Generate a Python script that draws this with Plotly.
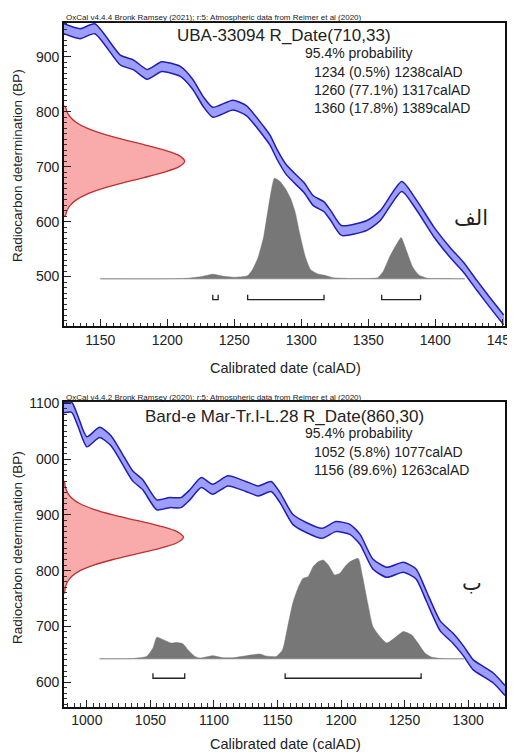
import plotly.graph_objects as go

# page is 515x752; the browser body adds an 8px margin, so the figure is 507x744
OFF = 8
W, H = 515 - OFF, 752 - OFF

# ---------------- Panel A (UBA-33094) ----------------
a_curve_year = [1123, 1135, 1146, 1165, 1175, 1185, 1196, 1210, 1219, 1227, 1234, 1249, 1259,
                1272, 1277, 1282, 1289, 1302, 1309, 1317, 1322, 1330, 1349, 1359, 1375, 1386,
                1399, 1411, 1421, 1431, 1441, 1451]
a_curve_bp = [951, 942, 951, 894, 885, 868, 882, 873, 850, 818, 799, 812, 802,
              764, 747, 722, 694, 662, 638, 627, 611, 584, 593, 611, 664, 630,
              581, 544, 517, 484, 452, 421]
a_curve_sig = [9, 9, 9, 9, 9, 9, 9, 9, 9, 9, 9, 9, 9,
               9, 9, 9, 9, 9, 9, 9, 9, 9, 9, 9, 9, 9,
               9, 9, 9, 9, 9, 9]

a_post_year = [1150, 1200, 1215, 1225, 1234, 1242, 1250, 1256, 1260, 1264, 1268, 1272, 1276,
               1280, 1284, 1288, 1292, 1295.5, 1299, 1303, 1307, 1312, 1318, 1324, 1335,
               1350, 1357, 1361, 1366, 1371, 1374.5, 1379, 1383, 1387.5, 1394, 1405, 1422]
a_post_prob = [0.0, 0.0, 0.005, 0.02, 0.045, 0.025, 0.015, 0.02, 0.03, 0.10, 0.22, 0.42, 0.75,
               1.0, 0.97, 0.90, 0.80, 0.66, 0.44, 0.22, 0.09, 0.05, 0.033, 0.01, 0.003,
               0.003, 0.01, 0.07, 0.22, 0.34, 0.41, 0.26, 0.12, 0.04, 0.005, 0.003, 0.0]

a_red_bp = [610, 620, 630, 640, 650, 660, 670, 680, 690, 700, 710, 720, 730, 740, 750,
            760, 770, 780, 790, 800, 810]
a_red_dens = [0.010, 0.024, 0.053, 0.105, 0.191, 0.317, 0.480, 0.662, 0.832, 0.955, 1.0,
              0.955, 0.832, 0.662, 0.480, 0.317, 0.191, 0.105, 0.053, 0.024, 0.010]

a_ranges = [(1234, 1238), (1260, 1317), (1360, 1389)]
a_title = "UBA-33094 R_Date(710,33)"
a_lines = ["95.4% probability", "1234 (0.5%) 1238calAD", "1260 (77.1%) 1317calAD",
           "1360 (17.8%) 1389calAD"]
a_header = "OxCal v4.4.4 Bronk Ramsey (2021); r:5: Atmospheric data from Reimer et al (2020)"
a_label = "الف"
a_xticks = [1150, 1200, 1250, 1300, 1350, 1400, 1450]
a_yticks = [500, 600, 700, 800, 900]

# ---------------- Panel B (Bard-e Mar) ----------------
b_curve_year = [982, 988, 993, 1000, 1010, 1019, 1028, 1036, 1044, 1055, 1065, 1074, 1081,
                1090, 1099, 1111, 1125, 1135, 1145, 1152, 1162, 1173, 1185, 1196, 1207,
                1215, 1225, 1236, 1249, 1259, 1267, 1278, 1288, 1296, 1304, 1312, 1320, 1329]
b_curve_bp = [1092, 1093, 1068, 1031, 1048, 1033, 1000, 970, 954, 918, 922, 922, 936,
              958, 946, 961, 951, 943, 951, 931, 892, 877, 867, 879, 874,
              856, 812, 797, 806, 794, 755, 701, 679, 657, 631, 619, 607, 585]
b_curve_sig = [9, 9, 9, 9, 9, 9, 9, 9, 9, 9, 9, 9, 9,
               9, 9, 9, 9, 9, 9, 9, 9, 9, 9, 9, 9,
               9, 9, 9, 9, 9, 9, 9, 9, 9, 9, 9, 9, 9]

b_post_year = [1010, 1036, 1047, 1052, 1055, 1060, 1066.5, 1070.5, 1075.5, 1079.5, 1085,
               1089, 1099, 1107, 1115, 1136, 1141, 1149, 1154, 1158, 1162, 1166, 1170,
               1174, 1178, 1182, 1186, 1190, 1195, 1199, 1203, 1207, 1213.5, 1217, 1221,
               1225, 1230.5, 1236, 1242, 1249, 1255.5, 1260.5, 1266, 1271, 1278, 1297]
b_post_prob = [0.0, 0.003, 0.023, 0.106, 0.215, 0.19, 0.156, 0.162, 0.15, 0.09, 0.023,
               0.007, 0.03, 0.01, 0.01, 0.047, 0.027, 0.023, 0.09, 0.32, 0.553, 0.70, 0.80,
               0.817, 0.917, 0.966, 0.983, 0.933, 0.834, 0.851, 0.917, 0.966, 1.0, 0.814, 0.553,
               0.321, 0.221, 0.156, 0.206, 0.271, 0.238, 0.156, 0.057, 0.017, 0.003, 0.0]

b_red_bp = [760, 770, 780, 790, 800, 810, 820, 830, 840, 850, 860, 870, 880, 890, 900,
            910, 920, 930, 940, 950, 960]
b_red_dens = [0.004, 0.011, 0.029, 0.066, 0.135, 0.249, 0.411, 0.607, 0.801, 0.946, 1.0,
              0.946, 0.801, 0.607, 0.411, 0.249, 0.135, 0.066, 0.029, 0.011, 0.004]

b_ranges = [(1052, 1077), (1156, 1263)]
b_title = "Bard-e Mar-Tr.I-L.28 R_Date(860,30)"
b_lines = ["95.4% probability", "1052 (5.8%) 1077calAD", "1156 (89.6%) 1263calAD"]
b_header = "OxCal v4.4.2 Bronk Ramsey (2020); r:5: Atmospheric data from Reimer et al (2020)"
b_label = "ب"
b_xticks = [1000, 1050, 1100, 1150, 1200, 1250, 1300]
b_yticks = [600, 700, 800, 900, 1000, 1100]
b_ytext = ["600", "700", "800", "900", "000", "1100"]

FONT = "Arial, Liberation Sans, DejaVu Sans, sans-serif"
BLUE_FILL = "rgba(140,140,250,0.85)"
BLUE_LINE = "#1f1fb0"
RED_FILL = "#f9aaaa"
RED_LINE = "#c0302f"
GRAY = "#777777"


def fx(x):
    return (x - OFF) / W


def fy(y):
    return 1 - (y - OFF) / H


fig = go.Figure()


def add_panel(xa, ya, xr, cy, cbp, csig, py, pp, rbp, rd, ranges, base, pscale,
              rwidth, brk, brk_h, base_x0, base_x1):
    # red radiocarbon distribution on the y-axis
    rx = [xr[0]] + [xr[0] + d * rwidth for d in rd] + [xr[0]]
    ry = [rbp[0]] + rbp + [rbp[-1]]
    fig.add_trace(go.Scatter(x=rx, y=ry, xaxis=xa, yaxis=ya, mode="lines",
                             fill="toself", fillcolor=RED_FILL,
                             line=dict(color=RED_LINE, width=1.3, shape="spline", smoothing=0.8),
                             hoverinfo="skip", showlegend=False))
    # gray posterior
    fig.add_trace(go.Scatter(x=[base_x0, base_x1], y=[base, base], xaxis=xa, yaxis=ya,
                             mode="lines", line=dict(color="#c4c4c4", width=1.5),
                             hoverinfo="skip", showlegend=False))
    gx = [py[0]] + py + [py[-1]]
    gy = [base] + [base + p * pscale for p in pp] + [base]
    fig.add_trace(go.Scatter(x=gx, y=gy, xaxis=xa, yaxis=ya, mode="lines",
                             fill="toself", fillcolor=GRAY,
                             line=dict(color=GRAY, width=0.5, shape="spline", smoothing=0.5),
                             hoverinfo="skip", showlegend=False))
    # calibration curve band
    up = [m + s for m, s in zip(cbp, csig)]
    lo = [m - s for m, s in zip(cbp, csig)]
    fig.add_trace(go.Scatter(x=cy + cy[::-1], y=up + lo[::-1], xaxis=xa, yaxis=ya,
                             mode="lines", fill="toself", fillcolor=BLUE_FILL,
                             line=dict(width=0, shape="spline", smoothing=0.6),
                             hoverinfo="skip", showlegend=False))
    for edge in (up, lo):
        fig.add_trace(go.Scatter(x=cy, y=edge, xaxis=xa, yaxis=ya, mode="lines",
                                 line=dict(color=BLUE_LINE, width=1.5, shape="spline",
                                           smoothing=0.6),
                                 hoverinfo="skip", showlegend=False))
    # range brackets
    for a, b in ranges:
        fig.add_trace(go.Scatter(x=[a, a, b, b], y=[brk + brk_h, brk, brk, brk + brk_h],
                                 xaxis=xa, yaxis=ya, mode="lines",
                                 line=dict(color="#222222", width=1.3),
                                 hoverinfo="skip", showlegend=False))


add_panel("x", "y", [1123, 1452], a_curve_year, a_curve_bp, a_curve_sig,
          a_post_year, a_post_prob, a_red_bp, a_red_dens, a_ranges,
          496, 183, 90, 458, 9, 1150, 1422)
add_panel("x2", "y2", [982, 1329], b_curve_year, b_curve_bp, b_curve_sig,
          b_post_year, b_post_prob, b_red_bp, b_red_dens, b_ranges,
          642, 180, 94, 607, 9, 1010, 1297)


def xax(rng, dom, ticks, anchor):
    return dict(range=rng, domain=dom, anchor=anchor, tickvals=ticks, automargin=False,
                ticklabeloverflow="allow",
                ticks="inside", ticklen=7, tickwidth=1.3, tickcolor="#222",
                minor=dict(dtick=5, ticks="inside", ticklen=3.5, tickwidth=1, tickcolor="#333"),
                showline=True, mirror=True, linecolor="#111", linewidth=1.6,
                showgrid=False, zeroline=False,
                tickfont=dict(family=FONT, size=14, color="#222"))


def yax(rng, dom, ticks, anchor, text=None):
    d = dict(range=rng, domain=dom, anchor=anchor, tickvals=ticks, automargin=False,
             ticklabeloverflow="allow",
             ticks="inside", ticklen=7, tickwidth=1.3, tickcolor="#222",
             minor=dict(dtick=10, ticks="inside", ticklen=3.5, tickwidth=1, tickcolor="#333"),
             showline=True, mirror=True, linecolor="#111", linewidth=1.6,
             showgrid=False, zeroline=False,
             tickfont=dict(family=FONT, size=14, color="#222"))
    if text:
        d["ticktext"] = text
    return d


xd = [fx(64), fx(505)]
fig.update_layout(
    width=W, height=H, margin=dict(l=0, r=0, t=0, b=0),
    paper_bgcolor="white", plot_bgcolor="white",
    xaxis=xax([1123, 1452], xd, a_xticks, "y"),
    yaxis=yax([410, 962], [fy(326), fy(22.7)], a_yticks, "x"),
    xaxis2=xax([982, 1329], xd, b_xticks, "y2"),
    yaxis2=yax([556, 1103], [fy(706.7), fy(401.7)], b_yticks, "x2", b_ytext),
)


def ann(text, x, y, size, xanchor="center", yanchor="middle", angle=0, color="#222",
        family=FONT):
    fig.add_annotation(text=text, x=fx(x), y=fy(y), xref="paper", yref="paper",
                       showarrow=False, xanchor=xanchor, yanchor=yanchor, textangle=angle,
                       font=dict(family=family, size=size, color=color))


for hdr, ty, tl, tly, lines, ly, lab, labpos, xt, yt in [
    (a_header, 17.5, a_title, 36, a_lines, [53, 72, 90, 108], a_label, (471, 218), 368, 166),
    (b_header, 397, b_title, 417, b_lines, [433, 452, 470], b_label, (472, 583), 744, 548),
]:
    ann("<u>" + hdr + "</u>", 64, ty, 8, xanchor="left")
    ann(tl, 284, tly, 17)
    for i, (t, yy) in enumerate(zip(lines, ly)):
        ann(t, 303 if i == 0 else 312, yy, 14, xanchor="left")
    ann(lab, labpos[0], labpos[1], 21, family="DejaVu Sans, Noto Sans, sans-serif")
    ann("Calibrated date (calAD)", 285, xt, 14.5)
    ann("Radiocarbon determination (BP)", 17, yt, 13.5, angle=-90)

fig.write_html("out.html")
